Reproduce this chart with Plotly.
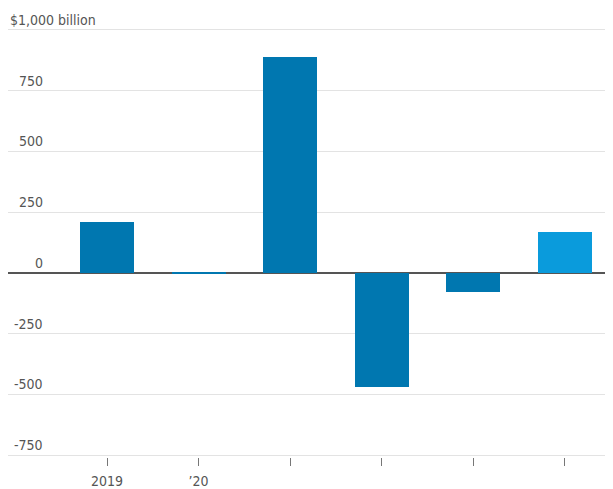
import plotly.graph_objects as go

categories = ["2019", "’20", "", "", "", ""]
values = [210, -6, 888, -470, -78, 170]
bar_colors = ["#0077b0", "#0077b0", "#0077b0", "#0077b0", "#0077b0", "#0a9bdc"]
ytick_vals = [1000, 750, 500, 250, 0, -250, -500, -750]
ytick_text = ["$1,000 billion", "750", "500", "250", "0", "-250", "-500", "-750"]

FONT = "DejaVu Sans Condensed, Liberation Sans, sans-serif"
FS = 14
TXT = "#555555"
# page body adds an 8px margin, so the figure is sized to fill the rest of the window
W, H = 605, 481
L, R, T, B = 0, 0, 20, 32

xpos = list(range(len(values)))

fig = go.Figure()
fig.add_trace(go.Bar(
    x=xpos, y=values, width=0.59,
    marker=dict(color=bar_colors, line=dict(width=0)),
    hoverinfo="skip",
))

annotations = []
for v, t in zip(ytick_vals, ytick_text):
    if t.startswith("$"):
        annotations.append(dict(x=0, xref="paper", y=v, yref="y",
                                text=t, showarrow=False, xanchor="left", yanchor="bottom",
                                yshift=0, font=dict(family=FONT, size=FS, color=TXT)))
    else:
        annotations.append(dict(x=37 / (W - L - R), xref="paper", y=v, yref="y",
                                text=t, showarrow=False, xanchor="right", yanchor="bottom",
                                yshift=0, font=dict(family=FONT, size=FS, color=TXT)))

fig.update_layout(
    width=W, height=H,
    margin=dict(l=L, r=R, t=T, b=B, pad=0),
    paper_bgcolor="white", plot_bgcolor="white",
    showlegend=False,
    bargap=0,
    xaxis=dict(
        range=[-1.082, 5.53],
        tickmode="array", tickvals=xpos, ticktext=categories,
        ticks="outside", ticklen=8, tickcolor="#777777", tickwidth=1,
        ticklabelstandoff=3,
        showgrid=False, zeroline=False, showline=False,
        tickfont=dict(family=FONT, size=FS, color=TXT),
        fixedrange=True,
    ),
    yaxis=dict(
        range=[-758.2, 1008.2],
        tickmode="array", tickvals=ytick_vals,
        showticklabels=False,
        showgrid=True, gridcolor="#e3e3e3", gridwidth=1,
        zeroline=True, zerolinecolor="#555555", zerolinewidth=2,
        showline=False, fixedrange=True,
    ),
    annotations=annotations,
)

fig.write_html("out.html")
